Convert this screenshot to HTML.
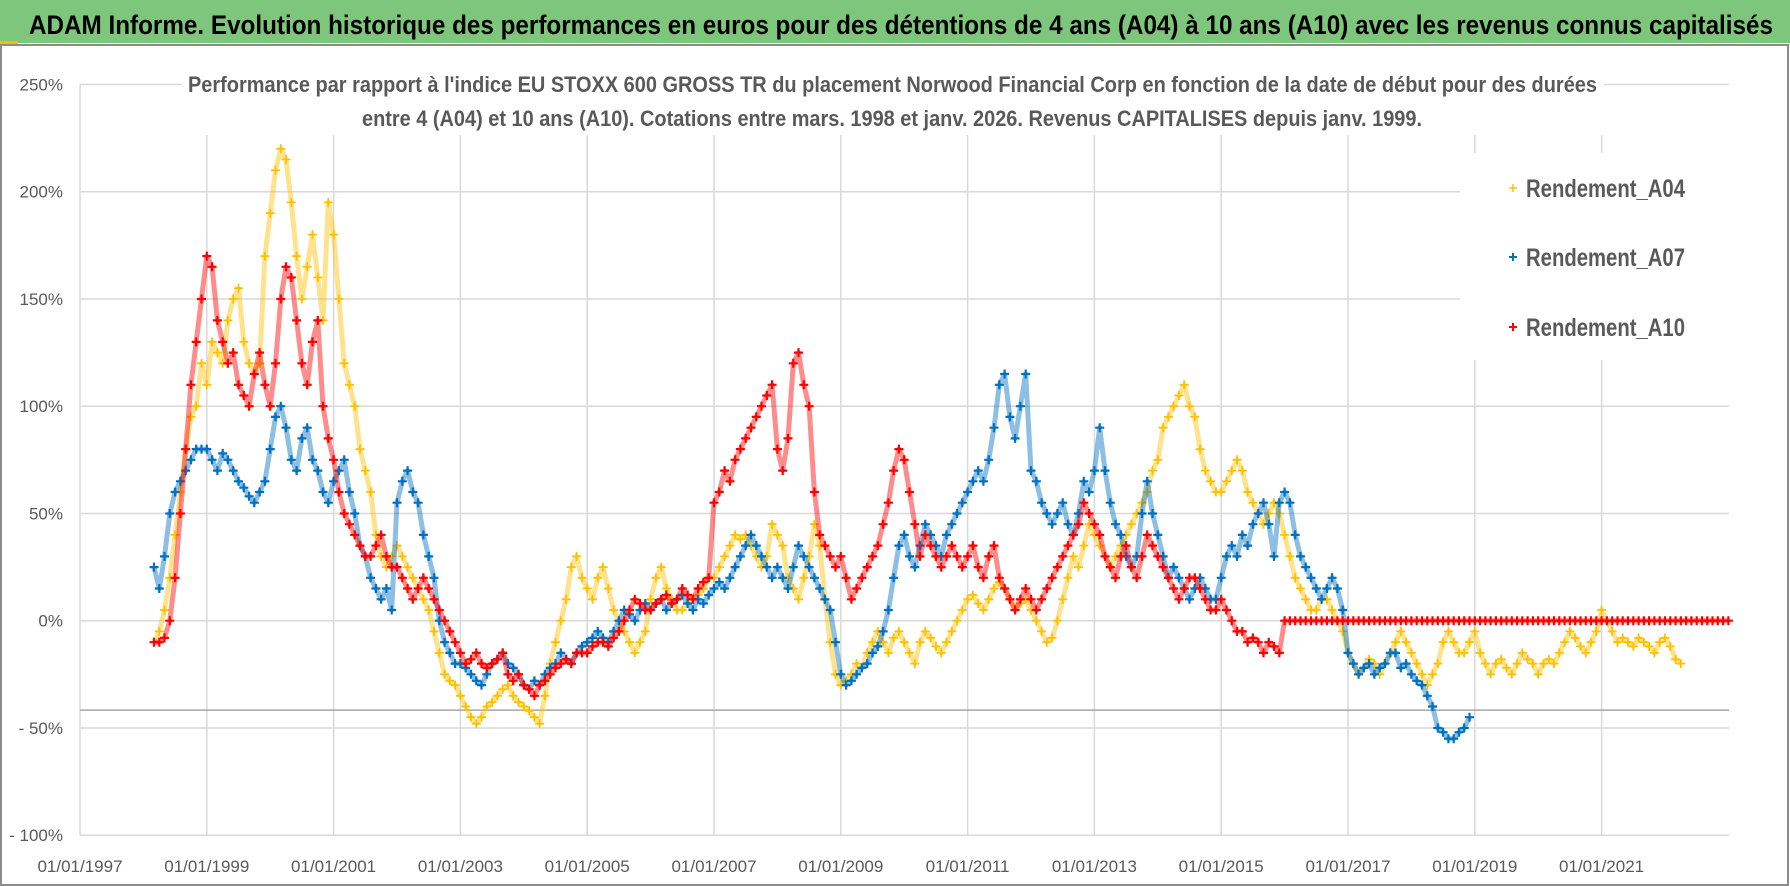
<!DOCTYPE html>
<html><head><meta charset="utf-8"><style>
html,body{margin:0;padding:0;background:#fff;}
svg{display:block;}
text{font-family:"Liberation Sans Narrow","Liberation Sans",sans-serif;}
</style></head><body>
<svg id="chart" width="1790" height="886" viewBox="0 0 1790 886" xmlns="http://www.w3.org/2000/svg">
<rect x="0" y="0" width="1790" height="886" fill="#fff"/>
<rect x="0" y="0" width="1790" height="43" fill="#7dc67b"/>
<line x1="0" y1="45" x2="1790" y2="45" stroke="#d9d9d9" stroke-width="2"/>
<rect x="0" y="41" width="18" height="3" fill="#f5c000"/>
<text x="29" y="34" font-size="27" font-weight="bold" fill="#000" textLength="1744" lengthAdjust="spacingAndGlyphs">ADAM Informe. Evolution historique des performances en euros pour des détentions de 4 ans (A04) à 10 ans (A10) avec les revenus connus capitalisés</text>
<rect x="1" y="45" width="1787" height="840" fill="none" stroke="#8c8c8c" stroke-width="2"/>
<g id="grid"></g>
<g id="yaxis"></g>
<g id="xaxis"></g>
<g id="series"></g>
<rect x="182" y="62" width="1422" height="72" fill="#fff"/>
<text x="188" y="92" font-size="22" font-weight="bold" fill="#595959" textLength="1409" lengthAdjust="spacingAndGlyphs">Performance par rapport à l'indice EU STOXX 600 GROSS TR  du placement Norwood Financial Corp en fonction de la date de début pour des durées</text>
<text x="362" y="126" font-size="22" font-weight="bold" fill="#595959" textLength="1060" lengthAdjust="spacingAndGlyphs">entre 4 (A04) et 10 ans (A10). Cotations entre mars. 1998 et janv. 2026. Revenus CAPITALISES depuis janv. 1999.</text>
<g>
<rect x="1460" y="153" width="269" height="207" fill="#fff"/>
<g><path d="M1509 188h8M1513 184v8" stroke="#ffc000" stroke-width="1.5"/><text x="1526" y="197" font-size="25" font-weight="bold" fill="#595959" textLength="159" lengthAdjust="spacingAndGlyphs">Rendement_A04</text></g>
<g><path d="M1509 257h8M1513 253v8" stroke="#0070c0" stroke-width="2"/><text x="1526" y="266" font-size="25" font-weight="bold" fill="#595959" textLength="159" lengthAdjust="spacingAndGlyphs">Rendement_A07</text></g>
<g><path d="M1509 327h8M1513 323v8" stroke="#ff0000" stroke-width="2"/><text x="1526" y="336" font-size="25" font-weight="bold" fill="#595959" textLength="159" lengthAdjust="spacingAndGlyphs">Rendement_A10</text></g>
</g>
</svg>
<script>
// ---- data ----
const yTicks = [250, 200, 150, 100, 50, 0, -50, -100];
const yTickLabels = ["250%", "200%", "150%", "100%", "50%", "0%", "- 50%", "- 100%"];
const xTickYears = [1997, 1999, 2001, 2003, 2005, 2007, 2009, 2011, 2013, 2015, 2017, 2019, 2021];
const xTickLabels = ["01/01/1997","01/01/1999","01/01/2001","01/01/2003","01/01/2005","01/01/2007","01/01/2009","01/01/2011","01/01/2013","01/01/2015","01/01/2017","01/01/2019","01/01/2021"];
const refLineValue = -41.7;
// monthly series, starting March 1998
const seriesStart = 1998 + 2/12;
const a04Values = [
-10,-5,5,20,40,60,80,95,100,120,
110,130,125,120,140,150,155,130,120,115,120,170,
190,210,220,215,195,170,150,165,180,160,140,195,
180,150,120,110,100,80,70,60,40,30,25,30,
35,30,25,20,15,10,5,-5,-15,-25,-28,-30,
-35,-40,-45,-48,-45,-40,-38,-35,-32,-30,-35,-38,
-40,-42,-45,-48,-35,-20,-10,0,10,25,30,20,
15,10,20,25,15,5,0,-5,-10,-15,-10,-5,
10,20,25,15,10,5,5,8,10,12,15,20,
20,25,30,35,40,38,40,35,30,25,30,45,
40,35,20,15,10,20,30,45,35,10,-10,-25,
-30,-28,-25,-20,-22,-15,-10,-5,-10,-15,-8,-5,
-10,-15,-20,-10,-5,-8,-12,-15,-10,-5,0,5,
10,12,8,5,10,15,18,15,10,5,8,10,
5,0,-5,-10,-8,0,10,20,30,25,35,45,
40,35,30,25,30,35,40,45,50,55,60,70,
75,90,95,100,105,110,100,95,80,70,65,60,
60,65,70,75,70,60,55,50,45,50,55,50,
40,30,20,15,10,5,5,10,10,5,0,-5,
-15,-20,-25,-22,-18,-20,-25,-20,-15,-10,-5,-10,
-15,-20,-25,-30,-25,-20,-10,-5,-10,-15,-15,-10,
-5,-15,-20,-25,-20,-18,-22,-25,-20,-15,-18,-20,
-25,-20,-18,-20,-15,-10,-5,-8,-12,-15,-10,-5,
5,0,-5,-10,-8,-10,-12,-8,-10,-12,-15,-10,
-8,-12,-18,-20
];
const a07Values = [
25,15,30,50,60,65,70,75,80,80,
80,75,70,78,75,70,65,62,58,55,60,65,
80,95,100,90,75,70,85,90,75,70,60,55,
65,70,75,60,50,35,30,20,15,10,15,5,
55,65,70,60,55,40,30,20,0,-10,-15,-20,
-20,-22,-25,-28,-30,-25,-20,-18,-15,-20,-22,-25,
-30,-32,-28,-30,-25,-22,-20,-15,-18,-20,-15,-12,
-10,-8,-5,-8,-10,-5,0,5,3,0,5,8,
5,8,10,5,8,10,12,8,5,10,8,12,
15,18,15,20,25,30,35,40,35,30,25,20,
25,20,15,25,35,30,25,20,15,10,5,-10,
-25,-30,-28,-25,-22,-20,-15,-12,-5,5,20,35,
40,30,25,35,45,40,35,30,40,45,50,55,
60,65,70,65,75,90,110,115,95,85,100,115,
70,65,55,50,45,50,55,45,40,50,65,60,
70,90,70,55,45,40,30,25,30,50,65,50,
40,30,20,25,20,15,10,15,20,15,10,10,
20,30,35,30,40,35,45,50,55,45,30,55,
60,55,40,30,25,20,15,10,15,20,15,5,
-15,-20,-25,-22,-20,-25,-22,-20,-15,-15,-22,-20,
-25,-28,-30,-35,-40,-50,-52,-55,-55,-52,-50,-45
];
const a10Values = [
-10,-10,-8,0,20,50,80,110,130,150,
170,165,140,130,120,125,110,105,100,115,125,110,
100,120,150,165,160,140,120,110,130,140,100,85,
75,60,50,45,40,35,30,30,35,40,30,25,
25,20,15,10,15,20,15,10,5,0,-5,-10,
-15,-20,-18,-15,-20,-22,-20,-18,-15,-25,-28,-25,
-30,-32,-35,-30,-28,-25,-22,-20,-18,-20,-15,-15,
-15,-12,-10,-10,-12,-8,-5,0,5,10,8,5,
5,8,10,12,8,10,15,12,10,15,18,20,
55,60,70,65,75,80,85,90,95,100,105,110,
80,70,85,120,125,110,100,60,40,35,30,25,
30,20,10,15,20,25,30,35,45,55,70,80,
75,60,45,30,40,35,30,25,30,35,30,25,
30,35,25,20,30,35,20,15,10,5,10,15,
10,5,10,15,20,25,30,35,40,45,55,50,
45,40,30,25,20,30,35,25,20,30,40,35,
30,25,20,15,10,15,20,20,15,10,5,5,
10,5,0,-5,-5,-10,-8,-10,-15,-10,-12,-15,
0,0,0,0,0,0,0,0,0,0,0,0,
0,0,0,0,0,0,0,0,0,0,0,0,
0,0,0,0,0,0,0,0,0,0,0,0,
0,0,0,0,0,0,0,0,0,0,0,0,
0,0,0,0,0,0,0,0,0,0,0,0,
0,0,0,0,0,0,0,0,0,0,0,0,
0,0,0,0,0,0,0,0,0,0,0,0,0
];

// ---- axes ----
const X0 = 80, PX_PER_YEAR = 63.4, PLOT_RIGHT = 1729;
const Y0 = 620.7, PX_PER_PCT = 2.145;
function xScale(year){ return X0 + (year - 1997) * PX_PER_YEAR; }
function yScale(v){ return Y0 - v * PX_PER_PCT; }
const NS = "http://www.w3.org/2000/svg";
function mk(tag, attrs, parent){ const e = document.createElementNS(NS, tag); for (const k in attrs) e.setAttribute(k, attrs[k]); parent.appendChild(e); return e; }

const grid = document.getElementById('grid');
const yaxis = document.getElementById('yaxis');
const xaxis = document.getElementById('xaxis');
yTicks.forEach((v, i) => {
  const y = yScale(v);
  const ln = mk('line', {x1: X0, x2: PLOT_RIGHT, y1: y, y2: y, stroke: '#d9d9d9', 'stroke-width': 1.5}, grid);
  
  
  const t = mk('text', {x: 63, y: y + 6, 'font-size': 17, fill: '#595959', 'text-anchor': 'end'}, yaxis);
  t.textContent = yTickLabels[i];
  
  
});
xTickYears.forEach((yr, i) => {
  const x = xScale(yr);
  if (i > 0) {
    const ln = mk('line', {x1: x, x2: x, y1: 135, y2: yScale(-100), stroke: '#d9d9d9', 'stroke-width': 1.5}, grid);
    
    
  }
  const t = mk('text', {x: x, y: 872, 'font-size': 17, fill: '#595959', 'text-anchor': 'middle'}, xaxis);
  t.textContent = xTickLabels[i];
  
  
});
const axl = mk('line', {x1: X0, x2: X0, y1: yScale(250), y2: yScale(-100), stroke: '#d9d9d9', 'stroke-width': 1.5}, grid);


const ref = mk('line', {x1: X0, x2: PLOT_RIGHT, y1: yScale(refLineValue), y2: yScale(refLineValue), stroke: '#a6a6a6', 'stroke-width': 1.5}, grid);



// ---- series ----
const seriesLayer = document.getElementById('series');
function drawSeries(values, color, name, sw){
  const g = mk('g', {}, seriesLayer);
  
  
  let pts = [];
  values.forEach((v, i) => { pts.push(xScale(seriesStart + i / 12).toFixed(1) + ',' + yScale(v).toFixed(1)); });
  const band = mk('polyline', {points: pts.join(' '), fill: 'none', stroke: color, 'stroke-width': 5, 'stroke-opacity': 0.45, 'stroke-linejoin': 'round'}, g);
  
  
  values.forEach((v, i) => {
    const x = xScale(seriesStart + i / 12), y = yScale(v);
    const p = mk('path', {d: `M${(x-4.5).toFixed(1)} ${y.toFixed(1)}h9M${x.toFixed(1)} ${(y-4.5).toFixed(1)}v9`, stroke: color, 'stroke-width': sw, fill: 'none'}, g);
    
    
  });
}
drawSeries(a04Values, '#ffc000', 'a04', 1.8);
drawSeries(a07Values, '#0070c0', 'a07', 2.2);
drawSeries(a10Values, '#ff0000', 'a10', 2.2);
</script>
</body></html>
